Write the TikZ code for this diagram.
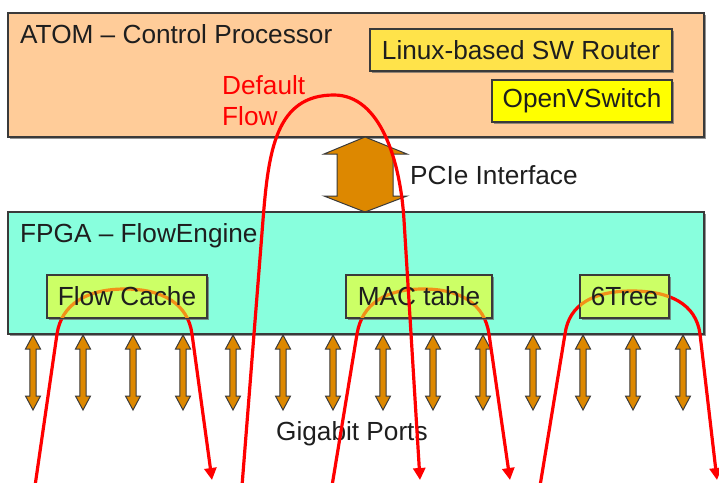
\documentclass[tikz,border=0pt]{standalone}
\usepackage{fontspec}
\setmainfont{Liberation Sans}
\usetikzlibrary{arrows.meta,shadows}
\definecolor{atomfill}{HTML}{FFCC99}
\definecolor{linuxfill}{HTML}{FFE34A}
\definecolor{ovsfill}{HTML}{FFFF00}
\definecolor{fpgafill}{HTML}{88FFDD}
\definecolor{subfill}{HTML}{CCFF66}
\definecolor{portfill}{HTML}{DD8800}
\definecolor{bordercol}{HTML}{3A3A3A}
\definecolor{flowred}{HTML}{FF0000}
\definecolor{floworange}{HTML}{F29018}
\definecolor{txt}{HTML}{1E1E1E}
\begin{document}
\begin{tikzpicture}[x=1pt,y=-1pt,
  font=\fontsize{26.2}{30}\selectfont,
  box/.style={draw=bordercol, line width=1.1pt, rectangle, inner sep=0pt,
    drop shadow={shadow xshift=1.6pt, shadow yshift=-1.6pt, fill=black!60, opacity=0.7}},
  lbl/.style={text=txt, inner sep=0pt},
  flow/.style={draw=flowred, line width=3.2pt, -{Triangle[width=12pt,length=12pt]}},
  flowin/.style={draw=floworange, line width=3.2pt},
  portarrow/.style={draw=bordercol, line width=1pt, fill=portfill, line join=miter}
]
\useasboundingbox (0,0) rectangle (719,482);

% ATOM box
\node[box, fill=atomfill, minimum width=696pt, minimum height=124pt] (atom) at (356,75) {};
\node[lbl, anchor=base west] (atomlbl) at (20,43) {ATOM -- Control Processor};
\node[box, fill=linuxfill, minimum width=302pt, minimum height=42pt] (linux) at (521,50) {};
\node[lbl] (linuxlbl) at (linux.center) {Linux-based SW Router};
\node[box, fill=ovsfill, minimum width=180pt, minimum height=42pt] (ovs) at (582,101) {};
\node[lbl] (ovslbl) at (ovs.center) {OpenVSwitch};
\node[text=flowred, inner sep=0pt, anchor=north west, align=left,
  font=\fontsize{26.2}{31}\selectfont] (deflbl) at (222,75) {Default\\Flow};

% PCIe arrow
\draw[portarrow] (365,137) -- (407,154) -- (393,154) -- (393,196) -- (407,196)
  -- (365,212) -- (324,196) -- (337,196) -- (337,154) -- (324,154) -- cycle;
\node[lbl, anchor=base west] (pcie) at (410,184) {PCIe Interface};

% FPGA box
\node[box, fill=fpgafill, minimum width=696pt, minimum height=122pt] (fpga) at (356,273) {};
\node[lbl, anchor=base west] (fpgalbl) at (20,242) {FPGA -- FlowEngine};

% port arrows
\foreach \i in {0,...,13}{
  \pgfmathsetmacro{\px}{33+50*\i}
  \draw[portarrow] (\px,335) -- (\px+7.5,349) -- (\px+3.2,349) -- (\px+3.2,396)
    -- (\px+7.5,396) -- (\px,410) -- (\px-7.5,396) -- (\px-3.2,396)
    -- (\px-3.2,349) -- (\px-7.5,349) -- cycle;
}
\node[lbl, anchor=base west] (gig) at (276,440) {Gigabit Ports};

% short flows
\def\fcpath{(35,486) -- (57,334) .. controls (61.5,304) and (87,289) .. (125,289) .. controls (163,289) and (188,304) .. (192,334) -- (212,480)}
\def\mcpath{(332,486) -- (357,334) .. controls (362,304) and (385,289) .. (423,289) .. controls (461,289) and (484.5,304) .. (489,334) -- (510,480)}
\def\tcpath{(540,486) -- (565,334) .. controls (569,304) and (594,291) .. (632,291) .. controls (670,291) and (696,304) .. (700,334) -- (717,480)}
\draw[flow] \fcpath;
\draw[flow] \mcpath;
\draw[flow] \tcpath;

% sub boxes
\node[box, fill=subfill, minimum width=160pt, minimum height=43pt] (fc) at (127,296.5) {};
\node[box, fill=subfill, minimum width=146pt, minimum height=43pt] (mac) at (419,296.5) {};
\node[box, fill=subfill, minimum width=89pt, minimum height=43pt] (tree) at (624.5,296.5) {};

\begin{scope}
  \clip ([xshift=0.6pt,yshift=0.6pt]fc.south west) rectangle ([xshift=-0.6pt,yshift=-0.6pt]fc.north east);
  \draw[flowin] \fcpath;
\end{scope}
\begin{scope}
  \clip ([xshift=0.6pt,yshift=0.6pt]mac.south west) rectangle ([xshift=-0.6pt,yshift=-0.6pt]mac.north east);
  \draw[flowin] \mcpath;
\end{scope}
\begin{scope}
  \clip ([xshift=0.6pt,yshift=0.6pt]tree.south west) rectangle ([xshift=-0.6pt,yshift=-0.6pt]tree.north east);
  \draw[flowin] \tcpath;
\end{scope}

\node[lbl] (fclbl) at (fc.center) {Flow Cache};
\node[lbl] (maclbl) at (mac.center) {MAC table};
\node[lbl] (treelbl) at (tree.center) {6Tree};

% default flow
\draw[flow] (242,486) -- (263,220) .. controls (268.5,150) and (276,95) .. (334,95)
  .. controls (380,95) and (400.3,160) .. (404,220) -- (420,480);
\end{tikzpicture}
\end{document}
